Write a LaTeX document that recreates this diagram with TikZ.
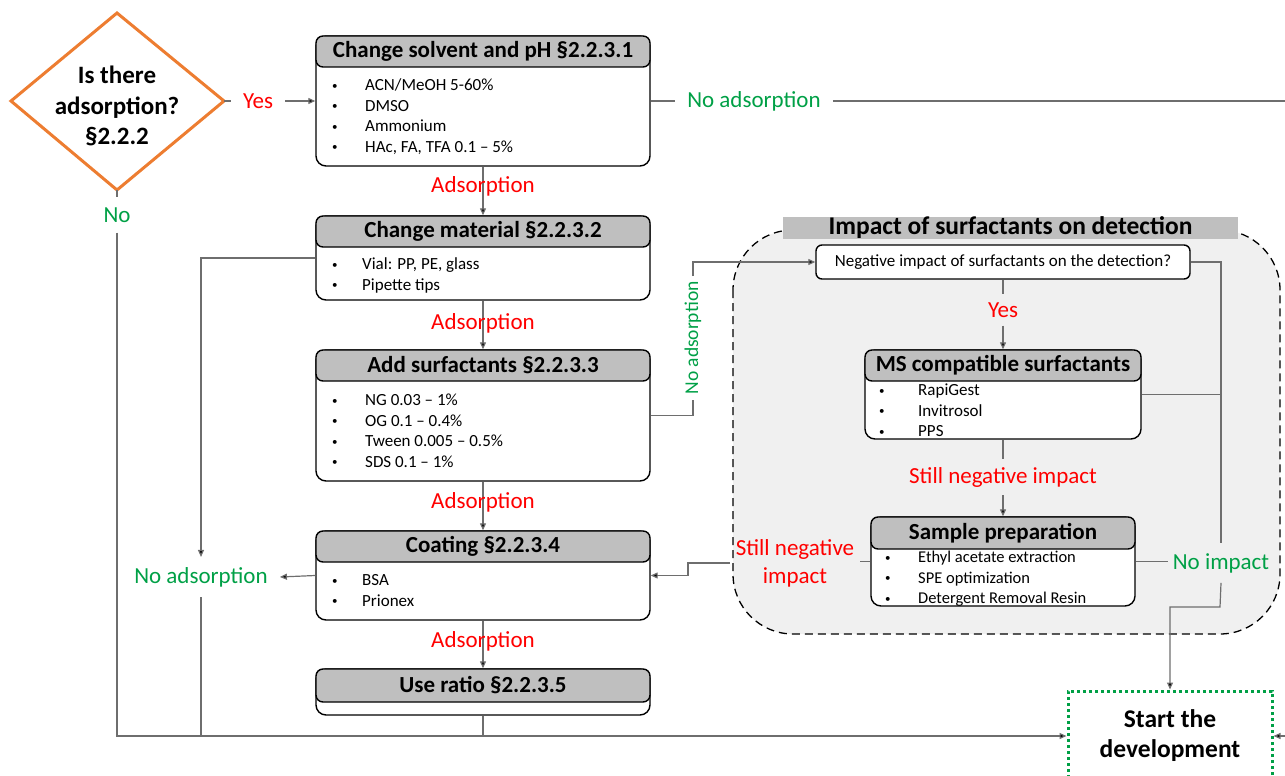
\documentclass[tikz,border=0pt]{standalone}
\usepackage{fontspec}
\setmainfont{Carlito}
\usetikzlibrary{arrows.meta,calc}
\definecolor{hdrgray}{RGB}{191,191,191}
\definecolor{panelgray}{RGB}{240,240,240}
\definecolor{orng}{RGB}{237,125,49}
\definecolor{grn}{RGB}{0,160,70}
\definecolor{lnkc}{RGB}{110,110,110}
\definecolor{redc}{RGB}{255,0,0}
\newcommand{\itemsfont}{\fontsize{17}{20.5}\selectfont}
\newcommand{\bul}{\raisebox{1.5pt}{\fontsize{11}{11}\selectfont\textbullet}}
\begin{document}
\begin{tikzpicture}[x=1pt,y=-1pt,
  lnk/.style={draw=lnkc, line width=1.2pt},
  arr/.style={draw=lnkc, line width=1.2pt, -{Triangle[length=7pt,width=6pt,fill=black]}},
  boxfr/.style={draw=black, line width=1.4pt, rounded corners=10pt, fill=white, inner sep=0pt},
  hdr/.style={draw=black, line width=1.4pt, rounded corners=7pt, fill=hdrgray, inner sep=0pt, anchor=north, font=\fontsize{23}{26}\selectfont\bfseries},
  items/.style={anchor=north west, inner sep=0pt, font=\itemsfont},
  redlbl/.style={text=redc, font=\fontsize{23}{28}\selectfont, inner xsep=12pt, inner ysep=2pt, align=center},
  grnlbl/.style={text=grn, font=\fontsize{23}{28}\selectfont, inner xsep=12pt, inner ysep=2pt, align=center},
]
\useasboundingbox (0,0) rectangle (1285,776);

% ---------- right panel background ----------
\path[draw=black, line width=1.3pt, dash pattern=on 8pt off 5pt, fill=panelgray, rounded corners=60pt] (733,230) rectangle (1280,634);
\node[fill=hdrgray, minimum width=455pt, minimum height=22pt, inner sep=0pt, font=\fontsize{25.5}{26}\selectfont\bfseries] (ptitle) at (1010.5,228) {Impact of surfactants on detection};

% ---------- diamond ----------
\draw[orng, line width=3pt, line join=miter] (11,101) -- (117,13) -- (224,101) -- (117,190) -- cycle;
\node[align=center, font=\fontsize{25}{30.5}\selectfont\bfseries, inner sep=0pt] (q) at (117,106) {Is there\\adsorption?\\§2.2.2};
\coordinate (qe) at (224,101);
\coordinate (qs) at (117,190);

% ---------- box 1 ----------
\node[boxfr, minimum width=334pt, minimum height=130pt] (b1) at (483,101) {};
\node[hdr, minimum width=334pt, minimum height=31pt] (b1h) at (b1.north) {Change solvent and pH §2.2.3.1};
\node[items] (b1i) at (332,76) {\begin{tabular}{@{}p{33pt}@{}l@{}}\bul & ACN/MeOH 5-60\%\\ \bul & DMSO\\ \bul & Ammonium\\ \bul & HAc, FA, TFA 0.1 -- 5\%\end{tabular}};

% ---------- box 2 ----------
\node[boxfr, minimum width=334pt, minimum height=84pt] (b2) at (483,258) {};
\node[hdr, minimum width=334pt, minimum height=31pt] (b2h) at (b2.north) {Change material §2.2.3.2};
\node[items] (b2i) at (332,255) {\begin{tabular}{@{}p{30pt}@{}l@{}}\bul & Vial: PP, PE, glass\\ \bul & Pipette tips\end{tabular}};

% ---------- box 3 ----------
\node[boxfr, minimum width=334pt, minimum height=131pt] (b3) at (483,415.5) {};
\node[hdr, minimum width=334pt, minimum height=31pt] (b3h) at (b3.north) {Add surfactants §2.2.3.3};
\node[items] (b3i) at (332,391) {\begin{tabular}{@{}p{33pt}@{}l@{}}\bul & NG 0.03 -- 1\%\\ \bul & OG 0.1 -- 0.4\%\\ \bul & Tween 0.005 -- 0.5\%\\ \bul & SDS 0.1 -- 1\%\end{tabular}};

% ---------- box 4 ----------
\node[boxfr, minimum width=334pt, minimum height=89pt] (b4) at (483,575.5) {};
\node[hdr, minimum width=334pt, minimum height=31pt] (b4h) at (b4.north) {Coating §2.2.3.4};
\node[items] (b4i) at (332,571) {\begin{tabular}{@{}p{30pt}@{}l@{}}\bul & BSA\\ \bul & Prionex\end{tabular}};

% ---------- box 5 ----------
\node[boxfr, minimum width=334pt, minimum height=46pt] (b5) at (483,692) {};
\node[hdr, minimum width=334pt, minimum height=33pt] (b5h) at (b5.north) {Use ratio §2.2.3.5};

% ---------- panel boxes ----------
\node[boxfr, rounded corners=6pt, minimum width=374pt, minimum height=34pt, font=\itemsfont] (neg) at (1003,262) {Negative impact of surfactants on the detection?};

\node[boxfr, minimum width=276pt, minimum height=89pt] (ms) at (1003,394.5) {};
\node[hdr, minimum width=276pt, minimum height=31pt] (msh) at (ms.north) {MS compatible surfactants};
\node[items] (msi) at (879,381) {\begin{tabular}{@{}p{39pt}@{}l@{}}\bul & RapiGest\\ \bul & Invitrosol\\ \bul & PPS\end{tabular}};

\node[boxfr, minimum width=264pt, minimum height=89pt] (sp) at (1003,561.5) {};
\node[hdr, minimum width=264pt, minimum height=32pt] (sph) at (sp.north) {Sample preparation};
\node[items, font=\fontsize{16.5}{20.5}\selectfont] (spi) at (885,548) {\begin{tabular}{@{}p{33pt}@{}l@{}}\bul & Ethyl acetate extraction\\ \bul & SPE optimization\\ \bul & Detergent Removal Resin\end{tabular}};

% ---------- start box ----------
\node[draw=grn, line width=3pt, dash pattern=on 3pt off 3pt, minimum width=204pt, minimum height=90pt, inner sep=0pt, align=center, font=\fontsize{25.5}{30}\selectfont\bfseries] (start) at (1170,736) {Start the\\development};

% ---------- labels ----------
\node[redlbl] (yes1) at (258,101) {Yes};
\node[grnlbl] (n1) at (754,101) {No adsorption};
\node[grnlbl, inner ysep=10pt] (no1) at (117,215) {No};
\node[grnlbl, inner xsep=12pt, inner ysep=10pt] (n2) at (201,577) {No adsorption};
\node[grnlbl, rotate=90, font=\fontsize{19.5}{22}\selectfont, inner xsep=5pt] (na3) at (693,338) {No adsorption};
\node[redlbl, inner ysep=8pt] (yes2) at (1003,310) {Yes};
\node[redlbl, inner ysep=8pt] (sni1) at (1003,477) {Still negative impact};
\node[redlbl, inner xsep=6pt] (sni2) at (795,563) {Still negative\\impact};
\node[grnlbl, inner xsep=5pt, inner ysep=10pt] (ni) at (1221,563) {No impact};

\coordinate (tr) at (1285,101);
\coordinate (re) at (1285,736);
\coordinate (j1) at (688,563);
\coordinate (j2) at (1220,607);
\coordinate (j3) at (1170,607);

% ---------- connectors ----------
\draw[lnk] (qe) -- (yes1.west);
\draw[arr] (yes1.east) -- (b1.west);
\draw[lnk] (b1.east) -- (n1.west);
\draw[lnk] (n1.east) -- (tr);

\draw[arr] (b1.south) -- (b2.north);
\node[redlbl] (a1) at (483,186) {Adsorption};
\draw[arr] (b2.south) -- (b3.north);
\node[redlbl] (a2) at (483,323) {Adsorption};
\draw[arr] (b3.south) -- (b4.north);
\node[redlbl] (a3) at (483,502) {Adsorption};
\draw[arr] (b4.south) -- (b5.north);
\node[redlbl] (a4) at (483,641) {Adsorption};

\draw[lnk] (qs) -- (no1.north);
\draw[arr] (no1.south) |- (start.west);
\draw[arr] (b2.west) -| (n2.north);
\draw[arr] (b4.west) -- (n2.east);
\draw[lnk] (n2.south) -- (n2.south |- start.west);
\draw[lnk] (b5.south) -- (b5.south |- start.west);

\draw[lnk] (b3.east) -| (na3.west);
\draw[arr] (na3.east) |- (neg.west);

\draw[lnk] (neg.south) -- (yes2.north);
\draw[arr] (yes2.south) -- (ms.north);
\draw[lnk] (ms.south) -- (sni1.north);
\draw[arr] (sni1.south) -- (sp.north);

\draw[lnk] (sp.west) -- (sni2.east |- sp.west);
\draw[arr] (sni2.west |- j1) -- (j1) |- (b4.east);

\draw[lnk] (neg.east) -| (ni.north);
\draw[lnk] (ms.east) -- (ms.east -| ni.north);
\draw[lnk] (sp.east) -- (ni.west |- sp.east);
\draw[arr] (ni.south) -- (j2) -- (j3) -- (start.north);
\draw[arr] (re) -- (start.east);
\end{tikzpicture}
\end{document}
